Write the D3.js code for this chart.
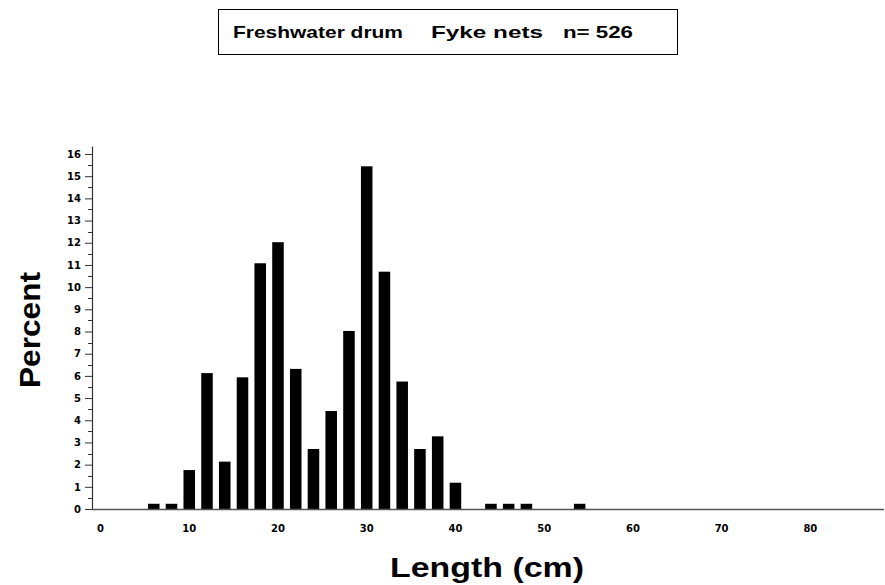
<!DOCTYPE html>
<html>
<head>
<meta charset="utf-8">
<script src="https://cdn.jsdelivr.net/npm/d3@7"></script>
<style>
  html, body { margin: 0; padding: 0; background: #fff; }
  svg { display: block; }
  text { font-family: "DejaVu Sans", "Liberation Sans", Arial, sans-serif; font-weight: bold; fill: #000; }
  text.helv { font-family: "Liberation Sans", Arial, Helvetica, sans-serif; }
</style>
</head>
<body>
<svg id="chart" width="885" height="585"></svg>
<script>
// ---- data ----
const lengthBins = [6, 8, 10, 12, 14, 16, 18, 20, 22, 24, 26, 28, 30, 32, 34, 36, 38, 40, 42, 44, 46, 48, 50, 52, 54];
const percentValues = [0.19, 0.19, 1.71, 6.08, 2.09, 5.89, 11.03, 11.98, 6.27, 2.66, 4.37, 7.98, 15.40, 10.65, 5.70, 2.66, 3.23, 1.14, 0, 0.19, 0.19, 0.19, 0, 0, 0.19];
const xTickValues = [0, 10, 20, 30, 40, 50, 60, 70, 80];
const yTickValues = [0, 1, 2, 3, 4, 5, 6, 7, 8, 9, 10, 11, 12, 13, 14, 15, 16];
const titleParts = ["Freshwater drum", "Fyke nets", "n= 526"];
const xLabel = "Length  (cm)";
const yLabel = "Percent";

const svg = d3.select("#chart");
const FONT = "'DejaVu Sans', 'Liberation Sans', Arial, sans-serif";

const x = d3.scaleLinear().domain([-0.96, 88.3]).range([92, 884]);
const y = d3.scaleLinear().domain([0, 16]).range([509, 154]);
const yTop = 146.5;

// ---- title box ----
svg.append("rect")
  .attr("x", 218.5).attr("y", 9.5).attr("width", 459).attr("height", 45)
  .attr("fill", "none").attr("stroke", "#000").attr("stroke-width", 1);
const titlePos = [[233, 170], [431, 112], [563, 70]];
titleParts.forEach((t, i) => {
  svg.append("text").attr("class", "helv")
    .attr("x", titlePos[i][0]).attr("y", 37.5)
    .attr("font-size", 16.5)
    .attr("textLength", titlePos[i][1]).attr("lengthAdjust", "spacingAndGlyphs")
    .text(t);
});

// ---- bars ----
const data = lengthBins.map((b, i) => ({ bin: b, value: percentValues[i] }));
svg.append("g").selectAll("rect")
  .data(data.filter(d => d.value > 0))
  .join("rect")
  .attr("x", d => x(d.bin - 0.65))
  .attr("width", d => x(d.bin + 0.65) - x(d.bin - 0.65))
  .attr("y", d => y(d.value) - 1)
  .attr("height", d => y(0) - y(d.value) + 1)
  .attr("fill", "#000");

// ---- y axis ----
const yAxis = d3.axisLeft(y).tickValues(yTickValues).tickSize(7).tickPadding(4).tickSizeOuter(0);
const gy = svg.append("g").attr("transform", "translate(92,0)").call(yAxis);
gy.select(".domain").remove();
gy.selectAll(".tick line").attr("stroke", "#333");
gy.selectAll(".tick text")
  .attr("font-size", 10).attr("font-weight", "bold")
  .attr("font-family", FONT).attr("fill", "#000");
// minor ticks
const minorTicks = d3.range(0, 16).map(v => v + 0.5);
svg.append("g").selectAll("line").data(minorTicks).join("line")
  .attr("x1", 88).attr("x2", 92)
  .attr("y1", d => Math.round(y(d)) + 0.5).attr("y2", d => Math.round(y(d)) + 0.5)
  .attr("stroke", "#333");
svg.append("line")
  .attr("x1", 92.5).attr("x2", 92.5).attr("y1", yTop).attr("y2", 509.5)
  .attr("stroke", "#333").attr("stroke-width", 1.2);

// ---- x axis ----
svg.append("line")
  .attr("x1", 92).attr("x2", 884).attr("y1", 509.5).attr("y2", 509.5)
  .attr("stroke", "#555").attr("stroke-width", 1.5);
svg.append("g").selectAll("text").data(xTickValues).join("text")
  .attr("x", d => x(d)).attr("y", 531.5)
  .attr("text-anchor", "middle").attr("font-size", 10)
  .text(d => d);

// ---- axis titles ----
svg.append("text").attr("class", "helv")
  .attr("x", 390).attr("y", 577)
  .attr("font-size", 27)
  .attr("textLength", 194).attr("lengthAdjust", "spacingAndGlyphs")
  .text(xLabel);
svg.append("text").attr("class", "helv")
  .attr("transform", "translate(40,330) rotate(-90)")
  .attr("text-anchor", "middle")
  .attr("font-size", 29)
  .attr("textLength", 116).attr("lengthAdjust", "spacingAndGlyphs")
  .text(yLabel);
</script>
</body>
</html>
